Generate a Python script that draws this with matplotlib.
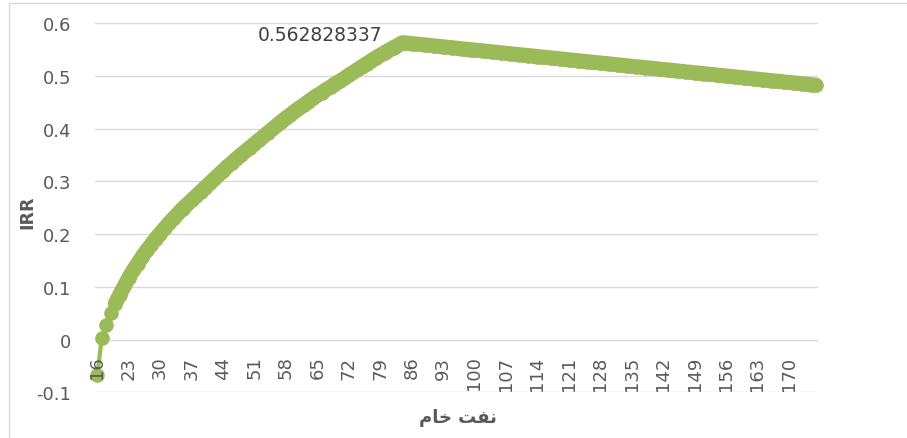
import numpy as np
import matplotlib
matplotlib.use("Agg")
import matplotlib.pyplot as plt
from matplotlib.patches import Rectangle

# crude oil price (categories) and IRR
price = list(range(16, 177))
irr_rise = [
    -0.068, 0.002, 0.028, 0.050, 0.068, 0.085, 0.101, 0.117, 0.131, 0.144,
    0.157, 0.169, 0.180, 0.191, 0.201, 0.211, 0.221, 0.230, 0.239, 0.248,
    0.256, 0.264, 0.272, 0.280, 0.288, 0.296, 0.304, 0.312, 0.320, 0.328,
    0.335, 0.343, 0.350, 0.357, 0.364, 0.371, 0.378, 0.385, 0.392, 0.399,
    0.406, 0.413, 0.420, 0.426, 0.433, 0.439, 0.445, 0.451, 0.457, 0.463,
    0.468, 0.474, 0.479, 0.485, 0.490, 0.495, 0.501, 0.5065, 0.512, 0.5175,
    0.523, 0.5285, 0.534, 0.539, 0.544, 0.549, 0.5535, 0.558, 0.562828337,
]
irr_fall = [
    0.5620, 0.5611, 0.5602, 0.5593, 0.5584, 0.5576, 0.5567, 0.5558, 0.5549, 0.5541,
    0.5532, 0.5523, 0.5514, 0.5506, 0.5497, 0.5488, 0.5479, 0.5471, 0.5462, 0.5453,
    0.5444, 0.5436, 0.5427, 0.5418, 0.5409, 0.5400, 0.5392, 0.5383, 0.5374, 0.5365,
    0.5357, 0.5348, 0.5339, 0.5330, 0.5322, 0.5313, 0.5304, 0.5295, 0.5287, 0.5278,
    0.5269, 0.5260, 0.5252, 0.5243, 0.5234, 0.5225, 0.5216, 0.5208, 0.5199, 0.5190,
    0.5181, 0.5173, 0.5164, 0.5155, 0.5146, 0.5138, 0.5129, 0.5120, 0.5111, 0.5103,
    0.5094, 0.5085, 0.5076, 0.5068, 0.5059, 0.5050, 0.5041, 0.5032, 0.5024, 0.5015,
    0.5006, 0.4997, 0.4989, 0.4980, 0.4971, 0.4962, 0.4954, 0.4945, 0.4936, 0.4927,
    0.4919, 0.4910, 0.4901, 0.4892, 0.4884, 0.4875, 0.4866, 0.4857, 0.4848, 0.4840,
    0.4831, 0.4822,
]
irr = irr_rise + irr_fall
yticks = [-0.1, 0, 0.1, 0.2, 0.3, 0.4, 0.5, 0.6]
ytick_labels = ["-0.1", "0", "0.1", "0.2", "0.3", "0.4", "0.5", "0.6"]
xtick_vals = price[::7]
peak_label = "0.562828337"
# "نفت خام" written in shaped presentation forms, visual order
xlabel_txt = "\uFEE1\uFE8E\uFEA7 \uFE96\uFED4\uFEE7"

green = "#9BBB59"
txt = "#595959"
grid = "#D9D9D9"

fig = plt.figure(figsize=(9.07, 4.39), dpi=100)
fig.patches.append(Rectangle((9 / 907, -0.1), 2, 1.1 - 3.5 / 439, transform=fig.transFigure,
                             fill=False, edgecolor=grid, linewidth=1))
ax = fig.add_axes([95 / 907, 1 - 393.3 / 439, 723 / 907, (393.3 - 24) / 439])

# dense markers merge into a smooth band in the original, so back them with a thick line
ax.plot(price[4:], irr[4:], color=green, linewidth=10.8, solid_capstyle="round",
        solid_joinstyle="round", zorder=3, clip_on=False)
ax.plot(price, irr, color=green, linewidth=3, marker="o", markersize=10.5,
        markeredgewidth=0, markerfacecolor=green, zorder=3, clip_on=False)

ax.set_xlim(15.5, 176.5)
ax.set_ylim(-0.1, 0.6)
ax.set_yticks(yticks)
ax.set_yticklabels(ytick_labels)
ax.set_xticks(xtick_vals)
ax.set_xticklabels([str(v) for v in xtick_vals])
ax.grid(axis="y", color=grid, linewidth=1)
ax.set_axisbelow(True)
ax.xaxis.set_zorder(5)
for s in ax.spines.values():
    s.set_visible(False)
ax.spines["bottom"].set_position(("data", 0))
ax.tick_params(axis="both", length=0, colors=txt, labelsize=13)
ax.tick_params(axis="x", pad=11.5, labelrotation=90)
ax.tick_params(axis="y", pad=17)

ax.annotate(peak_label, xy=(84, irr[84 - 16]), xytext=(-14.5, 5.5),
            textcoords="offset points", ha="right", va="center",
            fontsize=13.5, color="#404040")

fig.text(27 / 907, 1 - 212 / 439, "IRR", rotation=90, ha="center", va="center",
         fontsize=12.5, fontweight="bold", color=txt)
fig.text(458 / 907, 1 - 418 / 439, xlabel_txt, ha="center", va="center",
         fontsize=13, fontweight="bold", color=txt, family=["DejaVu Sans"])

fig.savefig("out.png", dpi=100)
